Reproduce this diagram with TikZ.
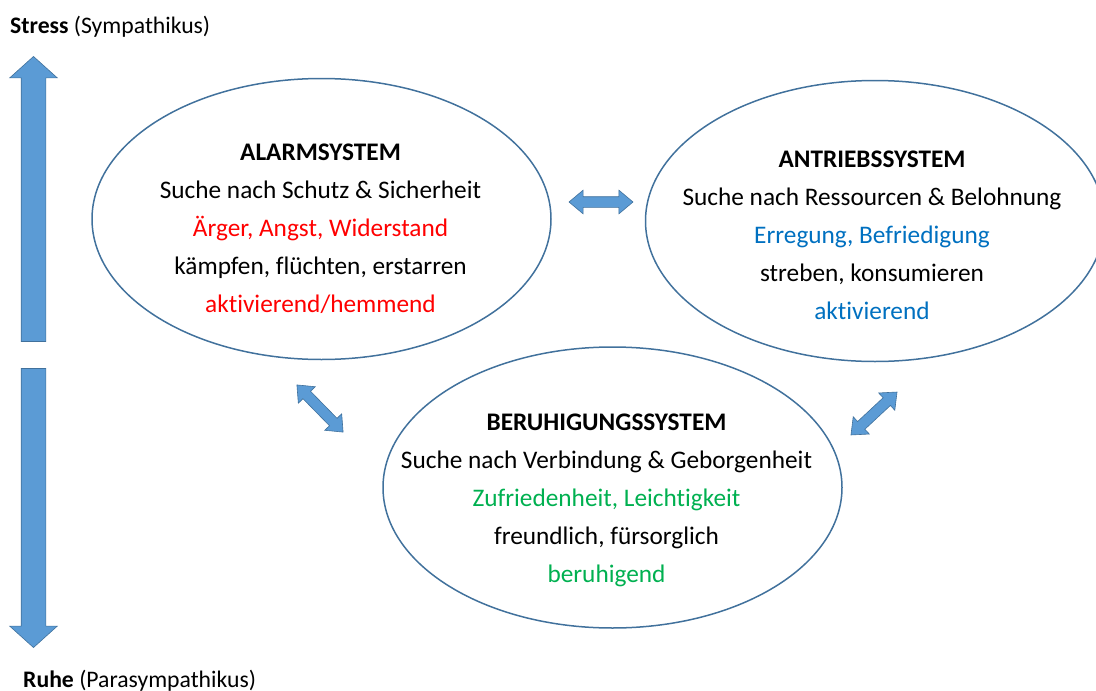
\documentclass[tikz,border=0pt]{standalone}
\usepackage{fontspec}
\setmainfont{Carlito}[Ligatures=NoCommon]
\usetikzlibrary{shapes.geometric,shapes.arrows}
\definecolor{edgeblue}{RGB}{65,113,156}
\definecolor{arrfill}{RGB}{91,155,213}
\definecolor{tred}{RGB}{255,0,0}
\definecolor{tblue}{RGB}{0,112,192}
\definecolor{tgreen}{RGB}{0,176,80}
\begin{document}
\begin{tikzpicture}[x=1pt,y=-1pt,
  sysbox/.style={ellipse, draw=edgeblue, line width=1.5pt, inner sep=0pt,
    minimum width=459pt, minimum height=281pt},
  txt/.style={anchor=base, inner sep=0pt, font=\fontsize{25.3}{29}\selectfont},
  lbl/.style={anchor=base west, inner sep=0pt, font=\fontsize{23.7}{27}\selectfont},
  bigarrow/.style={single arrow, fill=arrfill, draw=edgeblue, line width=0.6pt,
    inner xsep=0pt, inner ysep=12pt, minimum width=1pt,
    single arrow head extend=11.5pt, single arrow tip angle=96},
  linkarrow/.style={double arrow, fill=arrfill, draw=edgeblue, line width=0.6pt,
    inner xsep=0pt, inner ysep=5pt, minimum width=1pt,
    double arrow head extend=6.5pt, double arrow tip angle=80}]
\useasboundingbox (0,0) rectangle (1096,691);
\clip (0,0) rectangle (1096,691);

% side labels
\node[lbl] (stress) at (10,33) {\textbf{Stress} (Sympathikus)};
\node[lbl] (ruhe) at (23,687) {\textbf{Ruhe} (Parasympathikus)};

% vertical arrows
\node[bigarrow, rotate=90, minimum height=285pt] (up) at (33.5,204.5) {};
\node[bigarrow, rotate=-90, minimum height=279pt] (down) at (33.5,502.5) {};

% ellipses
\node[sysbox] (alarm) at (321.5,219) {};
\node[sysbox] (antrieb) at (875,221) {};
\node[sysbox] (beruh) at (612.5,487.5) {};

% link arrows
\node[linkarrow, minimum height=64pt] (l1) at (601,202) {};
\node[linkarrow, rotate=-45.6, minimum height=66pt] (l2) at (320,408.5) {};
\node[linkarrow, rotate=43, minimum height=63pt] (l3) at (874,413.5) {};

% alarm text
\node[txt] (a1) at (320.5,160) {\textbf{ALARMSYSTEM}};
\node[txt] (a2) at (320.5,198) {Suche nach Schutz \& Sicherheit};
\node[txt, text=tred] (a3) at (320.5,236) {Ärger, Angst, Widerstand};
\node[txt] (a4) at (320.5,274) {kämpfen, flüchten, erstarren};
\node[txt, text=tred] (a5) at (320.5,312) {aktivierend/hemmend};

% antrieb text
\node[txt] (b1) at (872,167) {\textbf{ANTRIEBSSYSTEM}};
\node[txt] (b2) at (872,205) {Suche nach Ressourcen \& Belohnung};
\node[txt, text=tblue] (b3) at (872,243) {Erregung, Befriedigung};
\node[txt] (b4) at (872,281) {streben, konsumieren};
\node[txt, text=tblue] (b5) at (872,319) {aktivierend};

% beruhigung text
\node[txt] (c1) at (606.5,430) {\textbf{BERUHIGUNGSSYSTEM}};
\node[txt] (c2) at (606.5,468) {Suche nach Verbindung \& Geborgenheit};
\node[txt, text=tgreen] (c3) at (606.5,506) {Zufriedenheit, Leichtigkeit};
\node[txt] (c4) at (606.5,544) {freundlich, fürsorglich};
\node[txt, text=tgreen] (c5) at (606.5,582) {beruhigend};
\end{tikzpicture}
\end{document}
